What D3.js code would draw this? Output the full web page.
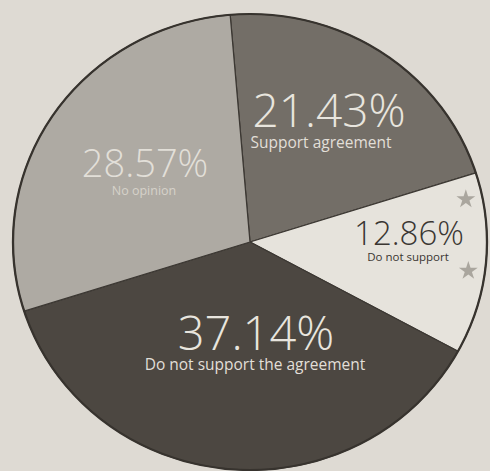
<!DOCTYPE html>
<html>
<head>
<meta charset="utf-8">
<script src="https://cdn.jsdelivr.net/npm/d3@7"></script>
<style>
  html, body { margin: 0; padding: 0; background: #dedad3; }
  svg { display: block; }
</style>
</head>
<body>
<svg id="chart" width="490" height="471"></svg>
<script>
// ---- data ----
const categories = ["Support agreement", "Do not support", "Do not support the agreement", "No opinion"];
const values = [21.43, 12.86, 37.14, 28.57];

// ---- styling / layout (not data) ----
const sliceColors = ["#736e67", "#e6e3dc", "#4c4741", "#aeaaa3"];
const pctColors = ["#e8e5de", "#3a3632", "#e8e5de", "#e2dfd8"];
const subColors = ["#e2dfd8", "#3a3632", "#e2dfd8", "#d6d2ca"];
const labelLayout = [
  { px: 329, py: 127, pSize: 46, sx: 321, sy: 148, sSize: 15.5 },
  { px: 409, py: 245, pSize: 33, sx: 408, sy: 261, sSize: 11.5 },
  { px: 256, py: 350, pSize: 47, sx: 255, sy: 370, sSize: 15.5 },
  { px: 145, py: 177, pSize: 38, sx: 144, sy: 195, sSize: 12.5 }
];

const W = 490, H = 471;
const cx = 250, cy = 242, ry = 228, rx = 237;
const startDeg = -4.8;

const svg = d3.select("#chart");

// paper background
svg.append("rect").attr("width", W).attr("height", H).attr("fill", "#dedad3");

const pie = d3.pie()
  .sort(null)
  .value(d => d.value)
  .startAngle(startDeg * Math.PI / 180)
  .endAngle(startDeg * Math.PI / 180 + 2 * Math.PI);

const data = categories.map((c, i) => ({ category: c, value: values[i], i }));
const arcs = pie(data);
const arc = d3.arc().innerRadius(0).outerRadius(ry);

const g = svg.append("g")
  .attr("transform", `translate(${cx},${cy}) scale(${rx / ry},1)`);

g.selectAll("path.slice")
  .data(arcs)
  .join("path")
  .attr("class", "slice")
  .attr("d", arc)
  .attr("fill", d => sliceColors[d.data.i])
  .attr("stroke", "#3c3833")
  .attr("stroke-width", 1.2)
  .attr("stroke-linejoin", "round");

// outer rim
g.append("circle")
  .attr("r", ry)
  .attr("fill", "none")
  .attr("stroke", "#37332e")
  .attr("stroke-width", 2.2);

// stars in the "Do not support" slice
const star = d3.symbol().type(d3.symbolStar).size(110);
const ws = arcs[1];
const starAngles = [ws.startAngle + (ws.endAngle - ws.startAngle) * 0.13, ws.startAngle + (ws.endAngle - ws.startAngle) * 0.55];
svg.selectAll("path.star")
  .data(starAngles)
  .join("path")
  .attr("class", "star")
  .attr("d", star)
  .attr("fill", "#aaa69e")
  .attr("transform", a => {
    const r = ry - 16;
    const x = cx + Math.sin(a) * r * rx / ry;
    const y = cy - Math.cos(a) * r;
    return `translate(${x},${y})`;
  });

// labels
const fmt = v => d3.format(".2f")(v) + "%";
const labels = svg.append("g").attr("font-family", "'Open Sans', 'Noto Sans', sans-serif");

labels.selectAll("text.pct")
  .data(arcs)
  .join("text")
  .attr("class", "pct")
  .attr("x", d => labelLayout[d.data.i].px)
  .attr("y", d => labelLayout[d.data.i].py)
  .attr("text-anchor", "middle")
  .attr("font-size", d => labelLayout[d.data.i].pSize)
  .attr("font-weight", 300)
  .attr("fill", d => pctColors[d.data.i])
  .text(d => fmt(d.data.value));

labels.selectAll("text.sub")
  .data(arcs)
  .join("text")
  .attr("class", "sub")
  .attr("x", d => labelLayout[d.data.i].sx)
  .attr("y", d => labelLayout[d.data.i].sy)
  .attr("text-anchor", "middle")
  .attr("font-size", d => labelLayout[d.data.i].sSize)
  .attr("fill", d => subColors[d.data.i])
  .text(d => d.data.category);
</script>
</body>
</html>
